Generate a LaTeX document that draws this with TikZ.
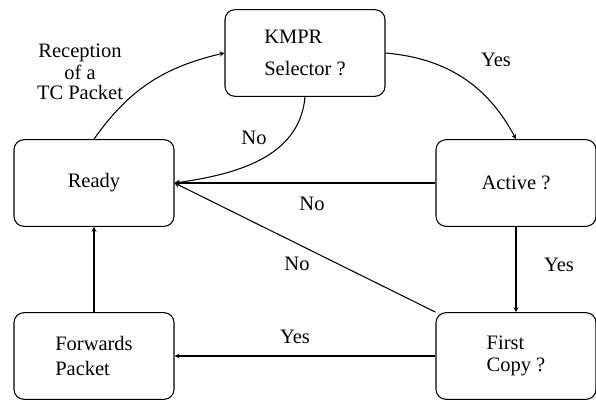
\documentclass[tikz,border=0pt]{standalone}
\usepackage{fontspec}
\setmainfont{Liberation Serif}
\usepackage{tikz}
\usetikzlibrary{arrows,shapes}

\tikzset{
  state/.style={draw, rounded corners=0.3cm, minimum width=4.8cm,
    minimum height=2.6cm, align=left, line width=0.9pt},
  lbl/.style={align=center},
}

\begin{document}
\begin{tikzpicture}[>=stealth, x=0.03cm, y=-0.03cm, line width=0.9pt,
  every node/.append style={font=\fontsize{17.5}{15}\selectfont}]
\useasboundingbox (0,0) rectangle (596,401);
% states
\node [state] (kmpr) at (305,53) {KMPR\\[13pt]Selector ?};
\node [state] (ready) at (94,183) {Ready};
\node [state] (active) at (516,183) {Active ?};
\node [state] (fwd) at (94,356) {Forwards\\[7pt]Packet};
\node [state] (first) at (516,356) {First\\[4pt]Copy ?};
% transitions
\draw [->] (ready.north) to[out=55,in=193] (kmpr.west);
\draw [->] (kmpr.south) to[out=-95,in=8] (ready.east);
\draw [->] (kmpr.east) to[out=-5,in=118] (active.north);
\draw [->] (active.west) -- (ready.east);
\draw [->] (active.south) -- (first.north);
\draw [->] (first.north west) -- (ready.east);
\draw [->] (first.west) -- (fwd.east);
\draw [->] (fwd.north) -- (ready.south);
% labels
\node [lbl] (lrecv) at (80,72) {Reception\\[2pt]of a\\[2pt]TC Packet};
\node (lno1) at (254,138) {No};
\node (lyes1) at (496,60) {Yes};
\node (lno2) at (312,204) {No};
\node (lno3) at (297,264) {No};
\node (lyes2) at (559,265) {Yes};
\node (lyes3) at (295,337) {Yes};
\end{tikzpicture}
\end{document}
